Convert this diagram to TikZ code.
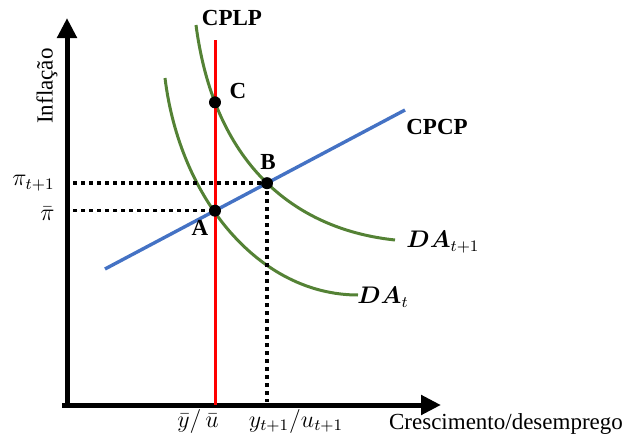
\documentclass[tikz,border=0pt]{standalone}
\usepackage{amsmath,bm}
\usepackage{fontspec}
\setmainfont{Liberation Serif}
\usetikzlibrary{arrows.meta,intersections}
\definecolor{dagreen}{RGB}{84,130,53}
\definecolor{cpblue}{RGB}{68,114,196}
\begin{document}
\begin{tikzpicture}[x=0.5pt,y=-0.5pt,
  font=\fontsize{11.5}{13}\selectfont,
  axis/.style={line width=2.5pt,-{Triangle[length=10pt,width=9.5pt]}},
  redline/.style={line width=1.5pt,color=red},
  blueline/.style={line width=1.7pt,color=cpblue},
  greenline/.style={line width=1.5pt,color=dagreen},
  dotline/.style={line width=1.8pt,dash pattern=on 1.8pt off 2.2pt},
  pt/.style={circle,fill=black,inner sep=0pt,minimum size=6pt},
  lbl/.style={inner sep=1pt}]
\useasboundingbox (0,0) rectangle (628,439);
\coordinate (O) at (67,405);
\coordinate (ytop) at (67,18);
\coordinate (xstart) at (62,405);
\coordinate (ybot) at (67,407);
\coordinate (xend) at (441,405);
\draw[axis] (xstart) -- (xend);
\draw[axis] (ybot) -- (ytop);
% curves
\draw[greenline,name path=da0] (165,78) .. controls (180,200) and (260,295) .. (358,295);
\draw[greenline,name path=da1] (196,25) .. controls (215,170) and (300,230) .. (395,240);
\draw[blueline,name path=blue] (105,269) -- (405,110);
\draw[redline,name path=red] (215,40) -- (215,405);
\path[name intersections={of=red and blue,by=A}];
\path[name intersections={of=blue and da1,by=B}];
\path[name intersections={of=red and da1,by=C}];
\coordinate (piA) at ([xshift=3pt]O |- A);
\coordinate (piB) at ([xshift=3pt]O |- B);
\coordinate (yB) at ([yshift=1.5pt]B |- O);
\draw[dotline] (piB) -- (B);
\draw[dotline] (piA) -- (A);
\draw[dotline] (B) -- (yB);
\node[pt] (pA) at (A) {};
\node[pt] (pB) at (B) {};
\node[pt] (pC) at (C) {};
% labels
\node[lbl] (lA) at (200,228) {\textbf{A}};
\node[lbl] (lB) at (268,162) {\textbf{B}};
\node[lbl] (lC) at (238,91) {\textbf{C}};
\node[lbl] (cplp) at (232,18) {\textbf{CPLP}};
\node[lbl] (cpcp) at (437,127) {\textbf{CPCP}};
\node[lbl] (da1l) at (443,242) {$\boldsymbol{DA}_{t+1}$};
\node[lbl] (da0l) at (383,297) {$\boldsymbol{DA}_{t}$};
\node[lbl,anchor=east] (pi1) at (57,183) {$\pi_{t+1}$};
\node[lbl,anchor=east] (pibar) at (57,214) {$\bar{\pi}$};
\node[lbl,rotate=90] (infl) at (47,86) {Inflação};
\node[lbl] (ybar) at (198,421) {$\bar{y}/\,\bar{u}$};
\node[lbl] (y1) at (296,421) {$y_{t+1}/u_{t+1}$};
\node[lbl] (cresc) at (506,424) {Crescimento/desemprego};
\end{tikzpicture}
\end{document}
